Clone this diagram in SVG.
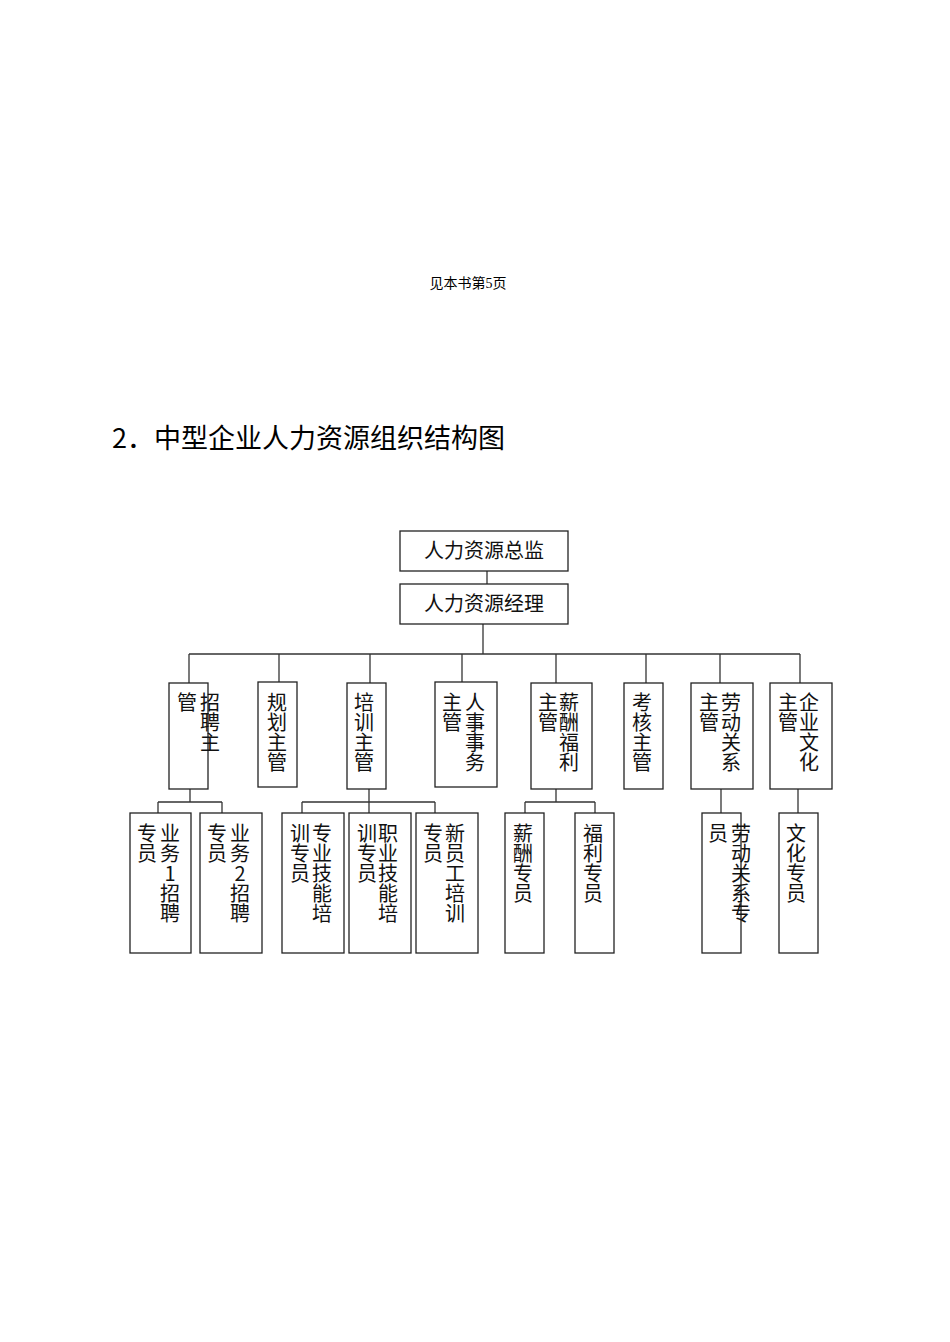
<svg xmlns="http://www.w3.org/2000/svg" width="950" height="1342" viewBox="0 0 950 1342">
<style>
rect{fill:#fff;stroke:#222;stroke-width:1.3}
line{stroke:#333;stroke-width:1.3}
.t{font-family:"Noto Sans CJK SC","Liberation Sans",sans-serif;font-size:20px;fill:#111}
.v{font-family:"Noto Sans CJK SC","Liberation Sans",sans-serif;font-size:20px;fill:#111;writing-mode:vertical-rl;text-orientation:upright}
</style>
<rect x="0" y="0" width="950" height="1342" style="fill:#fff;stroke:none"/>
<text x="468" y="288" text-anchor="middle" style="font-family:'Liberation Serif','Noto Sans CJK SC',serif;font-size:14px">见本书第5页</text>
<text x="112" y="448" style="font-family:'Noto Sans CJK SC',sans-serif;font-size:27px">2．中型企业人力资源组织结构图</text>
<g id="connectors">
<line x1="487" y1="571" x2="487" y2="584"/>
<line x1="483" y1="624" x2="483" y2="654"/>
<line x1="189" y1="654" x2="800" y2="654"/>
<line x1="189" y1="654" x2="189" y2="683"/>
<line x1="279" y1="654" x2="279" y2="682"/>
<line x1="370" y1="654" x2="370" y2="683"/>
<line x1="462" y1="654" x2="462" y2="682"/>
<line x1="556" y1="654" x2="556" y2="683"/>
<line x1="646" y1="654" x2="646" y2="683"/>
<line x1="720" y1="654" x2="720" y2="683"/>
<line x1="800" y1="654" x2="800" y2="683"/>
<line x1="190" y1="789" x2="190" y2="802"/>
<line x1="158" y1="802" x2="222" y2="802"/>
<line x1="158" y1="802" x2="158" y2="813"/>
<line x1="222" y1="802" x2="222" y2="813"/>
<line x1="369" y1="789" x2="369" y2="813"/>
<line x1="302" y1="802" x2="435" y2="802"/>
<line x1="302" y1="802" x2="302" y2="813"/>
<line x1="435" y1="802" x2="435" y2="813"/>
<line x1="556" y1="789" x2="556" y2="802"/>
<line x1="525" y1="802" x2="595" y2="802"/>
<line x1="525" y1="802" x2="525" y2="813"/>
<line x1="595" y1="802" x2="595" y2="813"/>
<line x1="721" y1="789" x2="721" y2="813"/>
<line x1="798" y1="789" x2="798" y2="813"/>
</g>
<g id="n-director"><rect x="400" y="531" width="168" height="40"/><text class="t" x="484" y="558" text-anchor="middle">人力资源总监</text></g>
<g id="n-manager"><rect x="400" y="584" width="168" height="40"/><text class="t" x="484" y="611" text-anchor="middle">人力资源经理</text></g>
<g id="n-recruit"><rect x="169" y="683" width="39" height="106"/><text class="v" x="187" y="692">管</text><text class="v" x="210" y="692">招聘主</text></g>
<g id="n-plan"><rect x="258" y="682" width="39" height="105"/><text class="v" x="277" y="692">规划主管</text></g>
<g id="n-train"><rect x="347" y="683" width="39" height="106"/><text class="v" x="364" y="692">培训主管</text></g>
<g id="n-affairs"><rect x="435" y="682" width="62" height="105"/><text class="v" x="452" y="692">主管</text><text class="v" x="475" y="692">人事事务</text></g>
<g id="n-comp"><rect x="531" y="683" width="61" height="106"/><text class="v" x="548" y="692">主管</text><text class="v" x="569" y="692">薪酬福利</text></g>
<g id="n-assess"><rect x="624" y="683" width="39" height="106"/><text class="v" x="642" y="692">考核主管</text></g>
<g id="n-labor"><rect x="691" y="683" width="62" height="106"/><text class="v" x="709" y="692">主管</text><text class="v" x="731" y="692">劳动关系</text></g>
<g id="n-culture"><rect x="770" y="683" width="62" height="106"/><text class="v" x="788" y="692">主管</text><text class="v" x="809" y="692">企业文化</text></g>
<g id="n-rec1"><rect x="130" y="813" width="61" height="140"/><text class="v" x="147" y="823">专员</text><text class="v" x="170" y="823">业务1招聘</text></g>
<g id="n-rec2"><rect x="200" y="813" width="62" height="140"/><text class="v" x="217" y="823">专员</text><text class="v" x="240" y="823">业务2招聘</text></g>
<g id="n-tr1"><rect x="282" y="813" width="62" height="140"/><text class="v" x="300" y="823">训专员</text><text class="v" x="322" y="823">专业技能培</text></g>
<g id="n-tr2"><rect x="349" y="813" width="62" height="140"/><text class="v" x="367" y="823">训专员</text><text class="v" x="388" y="823">职业技能培</text></g>
<g id="n-tr3"><rect x="416" y="813" width="62" height="140"/><text class="v" x="433" y="823">专员</text><text class="v" x="455" y="823">新员工培训</text></g>
<g id="n-pay"><rect x="505" y="813" width="39" height="140"/><text class="v" x="523" y="823">薪酬专员</text></g>
<g id="n-ben"><rect x="575" y="813" width="39" height="140"/><text class="v" x="593" y="823">福利专员</text></g>
<g id="n-lab"><rect x="702" y="813" width="39" height="140"/><text class="v" x="718" y="823">员</text><text class="v" x="741" y="823">劳动关系专</text></g>
<g id="n-cul"><rect x="779" y="813" width="39" height="140"/><text class="v" x="796" y="823">文化专员</text></g>
</svg>
